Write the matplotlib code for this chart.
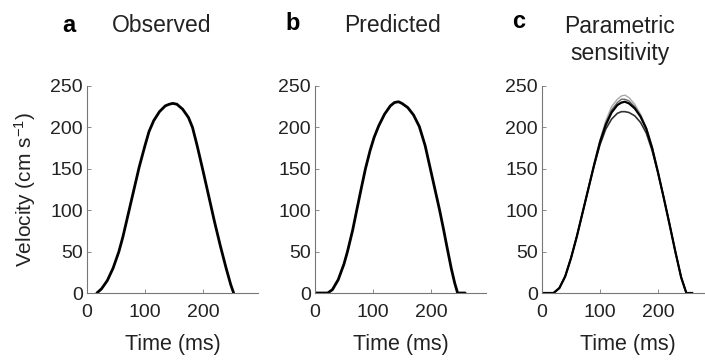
import numpy as np
from matplotlib import pyplot as plt

plt.rcParams['font.family'] = ['Liberation Sans', 'DejaVu Sans']
plt.rcParams['mathtext.default'] = 'regular'

# observed velocity profile (panel a)
t_obs = [17, 25, 35, 45, 55, 62, 70, 80, 90, 100, 107, 115, 125, 135, 142,
         148, 155, 165, 175, 182, 190, 200, 210, 220, 230, 240, 248, 253]
v_obs = [0, 5, 15, 30, 50, 68, 92, 122, 152, 178, 195, 208, 219, 226, 228,
         229, 228, 222, 212, 200, 178, 148, 117, 86, 57, 30, 10, 0]

# predicted profile (panel b)
t_pred = [0, 22, 30, 40, 50, 56, 65, 72, 80, 87, 95, 102, 110, 120, 130, 137,
          144, 150, 160, 170, 180, 190, 199, 207, 215, 222, 227, 235, 241, 246, 259]
v_pred = [0, 0, 4, 16, 35, 50, 76, 100, 127, 150, 172, 188, 202, 216, 226, 230,
          231, 229, 224, 215, 201, 178, 150, 125, 100, 76, 58, 30, 12, 0, 0]

# parametric sensitivity (panel c)
t_sens = [0, 20, 30, 40, 50, 60, 70, 80, 90, 100, 110, 120, 130, 137, 143,
          150, 160, 170, 180, 190, 200, 210, 220, 230, 240, 249, 259]
v_sens_main = [0, 0, 6, 20, 42, 68, 97, 126, 155, 182, 203, 218, 227, 230, 231,
               229, 223, 213, 198, 175, 146, 115, 83, 50, 19, 0, 0]
v_sens_low = [0, 0, 6, 20, 42, 68, 97, 126, 154, 179, 198, 210, 217, 219, 219,
              218, 214, 206, 193, 172, 145, 115, 83, 50, 19, 0, 0]
v_sens_high = [0, 0, 6, 20, 42, 68, 97, 126, 155, 183, 205, 221, 230, 234, 234,
               232, 225, 214, 199, 176, 146, 115, 83, 50, 19, 0, 0]
v_sens_top = [0, 0, 6, 21, 43, 69, 98, 127, 157, 185, 208, 225, 234, 238, 239,
              236, 228, 216, 200, 177, 147, 116, 84, 51, 20, 0, 0]

W, H = 705, 362
fig = plt.figure(figsize=(W / 100, H / 100), dpi=100)


def make_axes(left_px):
    ax = fig.add_axes([left_px / W, 1 - 293 / H, 171 / W, 207 / H])
    ax.set_xlim(0, 295)
    ax.set_ylim(0, 250)
    ax.set_xticks([0, 100, 200])
    ax.set_yticks([0, 50, 100, 150, 200, 250])
    for s in ['top', 'right']:
        ax.spines[s].set_visible(False)
    for s in ['left', 'bottom']:
        ax.spines[s].set_color('#777777')
        ax.spines[s].set_linewidth(0.8)
    ax.tick_params(axis='both', direction='in', length=3, width=0.6,
                   color='#777777', labelsize=14, labelcolor='#222222')
    ax.tick_params(axis='x', pad=8)
    ax.tick_params(axis='y', pad=3)
    ax.set_xlabel('Time (ms)', fontsize=15.5, color='#222222', labelpad=9)
    return ax


ax1 = make_axes(87)
ax1.plot(t_obs, v_obs, color='black', lw=2.0, solid_capstyle='round')
ax1.set_ylabel('Velocity (cm s$^{-1}$)', fontsize=15, color='#222222', labelpad=9)

ax2 = make_axes(315)
ax2.plot(t_pred, v_pred, color='black', lw=2.0, solid_capstyle='round')

ax3 = make_axes(542)
ax3.plot(t_sens, v_sens_top, color='#aaaaaa', lw=1.0)
ax3.plot(t_sens, v_sens_high, color='#666666', lw=1.0)
ax3.plot(t_sens, v_sens_low, color='#333333', lw=1.2)
ax3.plot(t_sens, v_sens_main, color='black', lw=1.6)

# panel letters and titles
fig.text(69 / W, 1 - 32 / H, 'a', fontsize=17, fontweight='bold', ha='center', va='baseline')
fig.text(162 / W, 1 - 32 / H, 'Observed', fontsize=16.5, color='#222222', ha='center', va='baseline')
fig.text(293 / W, 1 - 30 / H, 'b', fontsize=17, fontweight='bold', ha='center', va='baseline')
fig.text(392 / W, 1 - 32 / H, 'Predicted', fontsize=16.5, color='#222222', ha='center', va='baseline')
fig.text(519 / W, 1 - 28 / H, 'c', fontsize=17, fontweight='bold', ha='center', va='baseline')
fig.text(620 / W, 1 - 33 / H, 'Parametric', fontsize=16.5, color='#222222', ha='center', va='baseline')
fig.text(620 / W, 1 - 60 / H, 'sensitivity', fontsize=16.5, color='#222222', ha='center', va='baseline')

fig.savefig('out.png', dpi=100)
